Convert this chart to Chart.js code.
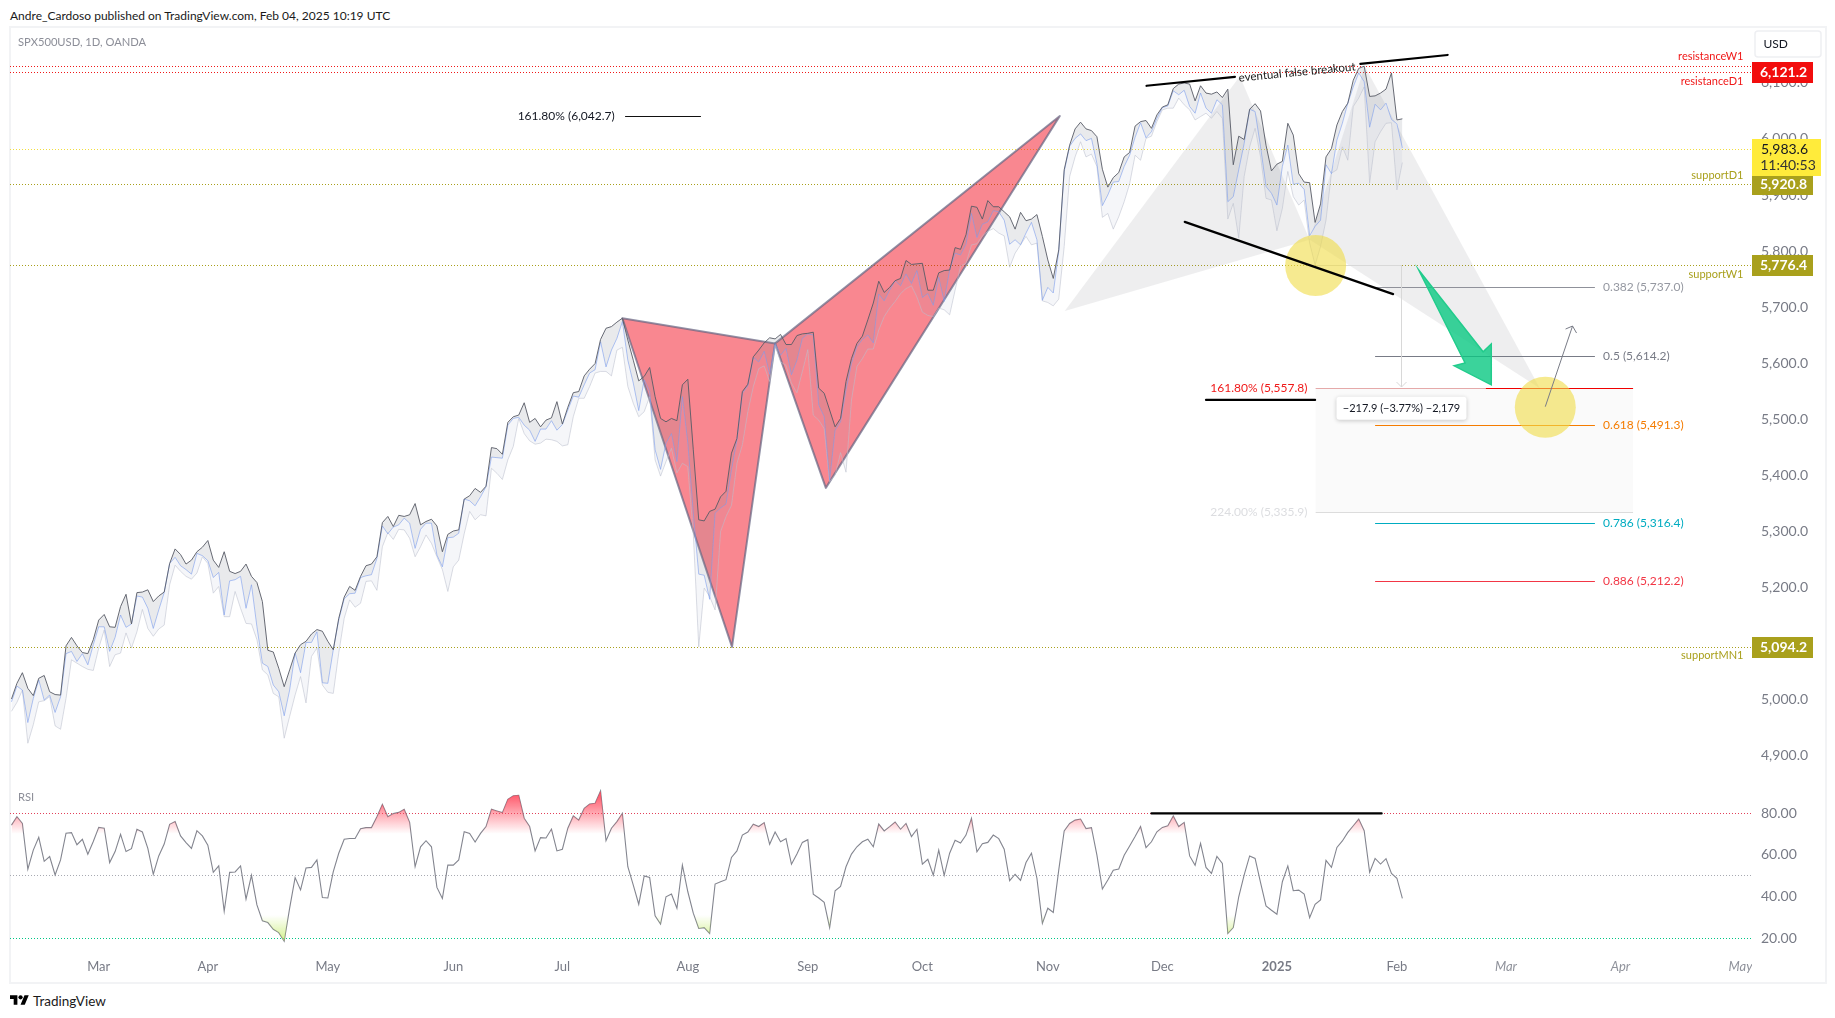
<!DOCTYPE html>
<html lang="en">
<head>
    <meta charset="UTF-8">
    <title>SPX500USD, 1D, OANDA</title>
    <script src="https://cdn.jsdelivr.net/npm/chart.js"></script>
    <style>
        body { margin: 0; background: white; font-family: Lato, sans-serif; }
        canvas { position: absolute; left: 0; top: 0; }
        .frame { position: absolute; left: 9px; top: 26px; width: 1814px; height: 954px; border: 2px solid #f2f3f5; }
        .header { position: absolute; left: 10px; top: 8px; font-size: 12px; color: #1a1a1a; white-space: nowrap; }
        .footer { position: absolute; left: 33px; top: 993px; font-size: 13.5px; color: #1a1a1a; }
        .logo { position: absolute; left: 10px; top: 993px; }
    </style>
</head>
<body>
    <div class="frame"></div>
    <div class="header">Andre_Cardoso published on TradingView.com, Feb 04, 2025 10:19 UTC</div>
    <svg class="logo" width="19" height="15" viewBox="0 0 36 28"><path d="M14 22H7V11H0V4h14v18zM28 22h-8l7.5-18h8L28 22z"/><circle cx="20" cy="8" r="4"/></svg>
    <div class="footer">TradingView</div>
    <canvas id="chart" width="1835" height="1018"></canvas>

    <script>
        // daily bars (one value per bar)
        const highLine = [
            5000,5028,5047,5019,5006,5037,5042,5013,5008,5007,5095,5110,5095,5083,5081,5106,5141,5151,5129,5128,
            5165,5187,5134,5190,5191,5195,5174,5184,5191,5242,5268,5258,5241,5248,5263,5271,5283,5248,5235,5263,
            5228,5224,5228,5241,5219,5208,5174,5087,5084,5055,5022,5052,5082,5097,5103,5116,5124,5121,5103,5088,
            5144,5182,5201,5194,5219,5238,5241,5254,5315,5326,5308,5328,5326,5329,5349,5311,5317,5321,5309,5263,
            5294,5300,5302,5357,5363,5376,5369,5380,5449,5447,5437,5494,5504,5507,5529,5494,5501,5486,5498,5502,
            5531,5491,5521,5547,5549,5577,5589,5599,5642,5662,5665,5673,5680,5641,5605,5568,5576,5592,5540,5501,
            5495,5501,5497,5561,5571,5445,5320,5318,5335,5339,5361,5371,5439,5465,5549,5562,5611,5623,5636,5645,
            5643,5651,5633,5633,5649,5652,5653,5655,5555,5546,5516,5486,5501,5567,5608,5635,5648,5677,5707,5746,
            5726,5735,5747,5751,5783,5776,5777,5778,5730,5730,5761,5765,5766,5806,5803,5829,5880,5878,5857,5890,
            5879,5879,5870,5861,5839,5869,5854,5857,5865,5826,5784,5751,5802,5945,5989,6018,6030,6018,6015,6004,
            5946,5914,5931,5940,5968,5976,6023,6031,6033,6019,6043,6057,6061,6090,6098,6100,6098,6068,6095,6082,
            6080,6084,6074,6089,5954,6005,5999,6053,6063,6050,5989,5943,5955,5960,6028,6007,5938,5923,5922,5851,
            5884,5968,5983,6025,6049,6064,6105,6126,6130,6076,6077,6082,6089,6118,6034,6036
        ];
        const midLine = [
            4995,5023,5016,4958,5001,5034,4998,5007,4976,5004,5081,5085,5067,5081,5061,5097,5129,5129,5085,5110,
            5150,5128,5134,5184,5182,5162,5126,5159,5190,5242,5253,5238,5231,5223,5260,5256,5247,5217,5226,5150,
            5211,5213,5219,5162,5204,5129,5064,5058,5025,5013,4970,5016,5082,5047,5101,5101,5120,5029,5028,5088,
            5141,5179,5188,5189,5217,5220,5222,5251,5309,5295,5307,5311,5323,5314,5269,5303,5314,5314,5257,5236,
            5288,5289,5296,5357,5354,5345,5361,5379,5432,5431,5430,5489,5501,5503,5489,5480,5460,5482,5482,5497,
            5480,5490,5516,5541,5539,5561,5582,5588,5638,5593,5623,5644,5674,5605,5564,5515,5570,5549,5445,5410,
            5457,5474,5424,5540,5457,5332,5223,5221,5178,5332,5341,5348,5409,5462,5546,5559,5610,5602,5621,5580,
            5635,5614,5626,5579,5605,5644,5652,5650,5525,5504,5391,5480,5495,5552,5599,5629,5642,5650,5636,5723,
            5711,5730,5747,5738,5759,5742,5765,5717,5724,5703,5753,5710,5766,5796,5793,5812,5867,5824,5848,5852,
            5872,5870,5855,5812,5820,5811,5832,5851,5820,5712,5735,5725,5799,5942,5987,6001,6009,5997,6001,5956,
            5881,5900,5923,5924,5951,5971,6003,6029,6002,6013,6037,6056,6059,6086,6079,6087,6058,6046,6082,6055,
            6046,6070,6061,5888,5897,5945,5992,6053,6049,5986,5915,5903,5882,5951,5989,5919,5921,5910,5827,5844,
            5855,5954,5938,5998,6028,6064,6093,6118,6102,6021,6062,6052,6064,6035,6027,5984
        ];
        const lowLine = [
            4978,4994,5016,4921,4954,4995,4997,5004,4952,4946,5001,5070,5064,5058,5053,5051,5091,5123,5058,5079,
            5082,5118,5091,5120,5160,5126,5112,5125,5132,5204,5239,5228,5219,5214,5225,5254,5242,5189,5201,5147,
            5147,5192,5162,5135,5134,5106,5052,5043,5010,5004,4930,4969,5007,5040,4993,5076,5091,5025,5012,5010,
            5082,5144,5177,5164,5171,5210,5211,5194,5272,5297,5285,5303,5302,5287,5254,5272,5293,5278,5254,5231,
            5192,5236,5248,5295,5335,5320,5329,5327,5412,5403,5392,5427,5451,5501,5474,5461,5455,5457,5464,5463,
            5460,5452,5454,5504,5537,5537,5558,5582,5585,5585,5577,5623,5628,5558,5528,5504,5513,5540,5427,5398,
            5424,5448,5404,5421,5415,5296,5093,5198,5183,5159,5299,5326,5346,5421,5454,5513,5558,5590,5595,5567,
            5632,5602,5596,5564,5547,5585,5624,5507,5498,5483,5388,5400,5440,5405,5534,5594,5608,5625,5625,5659,
            5683,5698,5710,5724,5733,5738,5718,5691,5685,5683,5698,5695,5686,5730,5773,5778,5811,5813,5827,5835,
            5840,5832,5827,5771,5796,5811,5826,5811,5814,5711,5708,5702,5714,5808,5933,5968,5995,5968,5973,5951,
            5860,5867,5839,5861,5888,5920,5971,5962,6001,6005,6031,6052,6055,6055,6073,6061,6052,6034,6040,6046,
            6037,6049,6037,5857,5885,5823,5933,5986,6019,5968,5894,5891,5836,5876,5942,5897,5882,5891,5814,5775,
            5808,5855,5939,5945,5986,5962,6058,6073,6093,5921,5995,6013,6028,6029,5909,5958
        ];
        const rsiLine = [
            74.2,78.2,75.0,53.0,62.2,68.3,56.8,59.1,50.3,57.5,70.3,70.6,64.8,67.4,60.2,66.3,73.1,72.7,56.2,61.5,
            69.8,61.5,62.9,72.2,70.9,63.0,50.6,59.4,65.1,74.6,75.9,69.0,65.8,63.0,71.5,69.0,64.6,51.5,54.6,32.8,
            51.5,51.7,54.6,38.7,50.1,35.9,28.3,27.4,24.2,22.6,18.4,34.3,49.0,43.1,53.6,53.9,57.5,39.4,39.2,51.9,
            60.7,67.4,67.8,67.8,72.5,73.0,73.0,78.2,84.2,78.2,79.7,80.3,81.8,75.5,54.2,63.8,66.7,63.8,44.3,39.0,
            55.0,55.0,57.5,71.0,70.2,66.1,70.2,73.5,81.8,81.0,80.2,86.6,88.3,88.5,77.5,73.5,61.8,68.2,68.0,72.3,
            61.8,62.6,72.7,78.6,76.6,82.2,84.3,84.7,90.6,66.7,72.7,75.9,79.9,54.2,45.4,36.2,49.8,49.1,30.6,26.7,
            39.8,41.1,34.3,55.0,42.2,31.9,24.6,25.0,22.2,45.9,47.0,48.0,58.7,61.8,69.4,70.9,74.6,73.5,75.4,65.0,
            70.9,66.2,67.7,55.4,60.3,65.9,67.2,41.0,39.2,37.1,25.0,42.7,44.8,54.2,60.3,63.8,66.2,67.4,63.8,74.7,
            71.4,73.5,75.7,72.2,75.0,68.7,72.2,55.4,57.8,50.1,62.2,50.1,60.7,66.9,65.6,69.4,77.4,61.4,65.3,65.9,
            69.4,67.7,62.6,47.5,50.6,47.7,56.2,60.7,48.7,27.0,34.3,32.3,52.6,71.4,75.0,76.6,77.1,72.5,73.0,59.8,
            43.5,47.8,52.5,53.1,59.7,64.2,68.7,73.5,63.4,66.2,71.0,73.1,73.9,78.6,73.5,75.5,59.4,54.9,65.4,53.9,
            51.0,59.2,55.8,22.2,25.0,39.8,50.3,59.4,58.2,46.6,35.4,33.3,31.4,47.0,54.6,42.7,43.0,41.1,29.8,36.2,
            38.3,57.3,53.9,63.5,66.6,70.7,73.9,77.1,71.5,51.5,58.2,55.5,58.1,51.0,48.7,39.0
        ];

        const monthBars = [16, 36, 58, 81, 101, 124, 146, 167, 190, 211, 232, 254, 274, 295, 317];
        const monthLabels = ['Mar', 'Apr', 'May', 'Jun', 'Jul', 'Aug', 'Sep', 'Oct', 'Nov', 'Dec', '2025', 'Feb', 'Mar', 'Apr', 'May'];
        const priceTicks = [4900, 5000, 5100, 5200, 5300, 5400, 5500, 5600, 5700, 5800, 5900, 6000, 6100];
        const rsiTicks = [20, 40, 60, 80];

        // drawn patterns, as [bar, price]
        const redLeg1 = [[112, 5680], [132.1, 5093], [140, 5635]];
        const redLeg2 = [[140, 5635], [149.3, 5377], [192.2, 6041]];
        const grayLeg1 = [[193.1, 5693], [225.2, 6112], [238, 5820]];
        const grayLeg2 = [[238, 5820], [248.1, 6130], [280.2, 5555]];
        const greenArrow = [[258, 5766], [269.8, 5620], [271.3, 5634], [271.3, 5561], [264.5, 5595], [266.5, 5600]];

        const trendLines = [
            [[208.1, 6095], [224.3, 6111]],
            [[247.3, 6134], [263.3, 6150]],
            [[215.1, 5852], [253.3, 5723]],
            [[219, 5534], [239, 5534]],
        ];
        const levelLines = [
            { price: 6131.6, color: '#f01818', label: 'resistanceW1', labelPrice: 6148 },
            { price: 6121.2, color: '#f01818', label: 'resistanceD1', labelPrice: 6103 },
            { price: 5983.6, color: '#f2de3c' },
            { price: 5920.8, color: '#a9a01c', label: 'supportD1', labelPrice: 5934 },
            { price: 5776.4, color: '#a9a01c', label: 'supportW1', labelPrice: 5758 },
            { price: 5094.2, color: '#a9a01c', label: 'supportMN1', labelPrice: 5077 },
        ];
        const fibLines = [
            { price: 5737.0, text: '0.382 (5,737.0)', line: '#8f919a', color: '#9598a1' },
            { price: 5614.2, text: '0.5 (5,614.2)', line: '#787b86', color: '#787b86' },
            { price: 5491.3, text: '0.618 (5,491.3)', line: '#f57c00', color: '#f57c00' },
            { price: 5316.4, text: '0.786 (5,316.4)', line: '#00acc1', color: '#00acc1' },
            { price: 5212.2, text: '0.886 (5,212.2)', line: '#f23645', color: '#f23645' },
        ];
        const priceBadges = [
            { price: 6121.2, text: '6,121.2', back: '#f20d0d', color: 'white' },
            { price: 5920.8, text: '5,920.8', back: '#a9a01c', color: 'white' },
            { price: 5776.4, text: '5,776.4', back: '#a9a01c', color: 'white' },
            { price: 5094.2, text: '5,094.2', back: '#a9a01c', color: 'white' },
        ];
        const circles = [[239.1, 5774], [281.2, 5521]];

        const axisFont = 'Lato, sans-serif';
        const points = arr => arr.map((v, i) => ({ x: i, y: v }));

        function polygon(ctx, chart, pts) {
            const { x, y } = chart.scales;
            ctx.beginPath();
            pts.forEach((p, i) => {
                const px = x.getPixelForValue(p[0]);
                const py = y.getPixelForValue(p[1]);
                if (i === 0) ctx.moveTo(px, py); else ctx.lineTo(px, py);
            });
        }

        function text(ctx, str, px, py, color, font, align) {
            ctx.fillStyle = color;
            ctx.font = font;
            ctx.textAlign = align || 'left';
            ctx.textBaseline = 'middle';
            ctx.fillText(str, px, py);
        }

        function dotted(ctx, x1, x2, py, color) {
            ctx.save();
            ctx.strokeStyle = color;
            ctx.lineWidth = 1;
            ctx.setLineDash([1, 2]);
            ctx.beginPath();
            ctx.moveTo(x1, py);
            ctx.lineTo(x2, py);
            ctx.stroke();
            ctx.restore();
        }

        function segment(ctx, x1, y1, x2, y2, color, width) {
            ctx.strokeStyle = color;
            ctx.lineWidth = width;
            ctx.beginPath();
            ctx.moveTo(x1, y1);
            ctx.lineTo(x2, y2);
            ctx.stroke();
        }

        // price levels sit one pixel lower than the raw scale position
        const levelY = (scale, price) => Math.round(scale.getPixelForValue(price)) + 1;

        // thin horizontal line kept on one pixel row
        function flat(ctx, x1, x2, row, color) {
            segment(ctx, x1, row + 0.5, x2, row + 0.5, color, 1);
        }

        const drawings = {
            id: 'drawings',
            // rsi fill colours need the finished scale
            afterLayout(chart) {
                const r = chart.scales.yRsi;
                const ctx = chart.ctx;
                const hot = ctx.createLinearGradient(0, r.getPixelForValue(90), 0, r.getPixelForValue(70));
                hot.addColorStop(0, 'rgba(255,70,90,0.95)');
                hot.addColorStop(1, 'rgba(255,70,90,0)');
                const cold = ctx.createLinearGradient(0, r.getPixelForValue(20), 0, r.getPixelForValue(31));
                cold.addColorStop(0, 'rgba(190,235,90,0.6)');
                cold.addColorStop(1, 'rgba(190,235,90,0)');
                chart.data.datasets[3].fill.above = hot;
                chart.data.datasets[4].fill.below = cold;
            },
            beforeDatasetsDraw(chart) {
                const ctx = chart.ctx;
                const { x, y, yRsi } = chart.scales;
                const area = chart.chartArea;
                ctx.save();

                levelLines.forEach(l => dotted(ctx, area.left, area.right, levelY(y, l.price) + 0.5, l.color));
                dotted(ctx, area.left, area.right, Math.round(yRsi.getPixelForValue(80)) + 0.5, '#e2405a');
                dotted(ctx, area.left, area.right, Math.round(yRsi.getPixelForValue(50)) - 0.5, '#a8aab2');
                dotted(ctx, area.left, area.right, Math.round(yRsi.getPixelForValue(20)) + 0.5, '#00c785');

                // gray harmonic pattern
                ctx.fillStyle = 'rgba(120,123,134,0.13)';
                [grayLeg1, grayLeg2].forEach(leg => { polygon(ctx, chart, leg); ctx.fill(); });

                // fib extension box
                const boxLeft = x.getPixelForValue(239.1);
                const boxRight = x.getPixelForValue(297.3);
                const boxTop = levelY(y, 5557.8);
                const boxBottom = levelY(y, 5335.9);
                ctx.fillStyle = 'rgba(120,123,134,0.04)';
                ctx.fillRect(boxLeft, boxTop, boxRight - boxLeft, boxBottom - boxTop);
                flat(ctx, boxLeft, boxRight, boxBottom, '#dcdcdc');

                // red pattern
                ctx.fillStyle = 'rgba(242,0,20,0.47)';
                ctx.strokeStyle = 'rgba(100,100,130,0.7)';
                ctx.lineWidth = 2;
                ctx.lineJoin = 'round';
                [redLeg1, redLeg2].forEach(leg => {
                    polygon(ctx, chart, leg);
                    ctx.closePath();
                    ctx.fill();
                    ctx.stroke();
                });
                ctx.restore();
            },
            afterDatasetsDraw(chart) {
                const ctx = chart.ctx;
                const { x, y, yRsi } = chart.scales;
                ctx.save();

                // retracement lines and labels
                const fibLeft = x.getPixelForValue(250);
                const fibRight = x.getPixelForValue(290.3);
                const fibText = x.getPixelForValue(291.8);
                fibLines.forEach(f => {
                    const row = levelY(y, f.price);
                    flat(ctx, fibLeft, fibRight, row, f.line);
                    text(ctx, f.text, fibText, row, f.color, '12px ' + axisFont);
                });

                // 161.8 / 224 extension lines
                const extLeft = x.getPixelForValue(239.1);
                const extMid = x.getPixelForValue(270.3);
                const extRight = x.getPixelForValue(297.3);
                const ext = levelY(y, 5557.8);
                flat(ctx, extLeft, extMid, ext, '#e5a9a9');
                flat(ctx, extMid, extRight, ext, '#f00000');
                const extText = x.getPixelForValue(237.6);
                text(ctx, '161.80% (5,557.8)', extText, ext, '#f01818', '12px ' + axisFont, 'right');
                text(ctx, '224.00% (5,335.9)', extText, levelY(y, 5335.9), '#dcdde0', '12px ' + axisFont, 'right');

                // top extension
                const topY = levelY(y, 6042.7);
                flat(ctx, x.getPixelForValue(112.5), x.getPixelForValue(126.4), topY, '#111');
                text(ctx, '161.80% (6,042.7)', x.getPixelForValue(110.6), topY, '#131722', '12px ' + axisFont, 'right');

                // measured drop
                const rangeX = Math.round(x.getPixelForValue(254.8)) + 0.5;
                const rangeTop = levelY(y, 5776.4);
                const rangeEnd = levelY(y, 5558.5);
                flat(ctx, x.getPixelForValue(239.1), rangeX, rangeTop, '#d8d8d8');
                segment(ctx, rangeX, rangeTop, rangeX, rangeEnd, '#d8d8d8', 1);
                segment(ctx, rangeX - 5, rangeEnd - 5, rangeX, rangeEnd, '#d8d8d8', 1);
                segment(ctx, rangeX + 5, rangeEnd - 5, rangeX, rangeEnd, '#d8d8d8', 1);

                // yellow circles
                ctx.fillStyle = 'rgba(240,220,70,0.6)';
                circles.forEach(c => {
                    ctx.beginPath();
                    ctx.arc(x.getPixelForValue(c[0]), y.getPixelForValue(c[1]), 30.5, 0, Math.PI * 2);
                    ctx.fill();
                });

                // green arrow
                ctx.fillStyle = 'rgba(10,200,130,0.8)';
                ctx.strokeStyle = '#22cc8c';
                ctx.lineWidth = 1.5;
                polygon(ctx, chart, greenArrow);
                ctx.closePath();
                ctx.fill();
                ctx.stroke();

                // thin arrow
                const ax1 = x.getPixelForValue(281.2), ay1 = y.getPixelForValue(5522);
                const ax2 = x.getPixelForValue(286.2), ay2 = y.getPixelForValue(5666);
                segment(ctx, ax1, ay1, ax2, ay2, '#787b86', 1);
                segment(ctx, ax2 - 7, ay2 + 3, ax2, ay2, '#787b86', 1);
                segment(ctx, ax2 + 4, ay2 + 7, ax2, ay2, '#787b86', 1);

                // black trend lines
                ctx.lineCap = 'round';
                trendLines.forEach(l => {
                    segment(ctx, x.getPixelForValue(l[0][0]), y.getPixelForValue(l[0][1]),
                        x.getPixelForValue(l[1][0]), y.getPixelForValue(l[1][1]), '#000', 2.2);
                });
                const rsiY = yRsi.getPixelForValue(79.8);
                segment(ctx, x.getPixelForValue(209), rsiY, x.getPixelForValue(251.2), rsiY, '#000', 2.2);
                ctx.lineCap = 'butt';

                // range label
                const boxX = rangeX - 65, boxY = y.getPixelForValue(5519) - 11.5;
                ctx.save();
                ctx.shadowColor = 'rgba(0,0,0,0.22)';
                ctx.shadowBlur = 4;
                ctx.shadowOffsetY = 1;
                ctx.fillStyle = 'white';
                ctx.beginPath();
                ctx.roundRect(boxX, boxY, 130, 23, 3);
                ctx.fill();
                ctx.restore();
                text(ctx, '\u2212217.9 (\u22123.77%) \u22122,179', rangeX, boxY + 11.5, '#131722', '11px ' + axisFont, 'center');

                // rotated note
                ctx.save();
                ctx.translate(x.getPixelForValue(235.7), y.getPixelForValue(6119));
                ctx.rotate(-5.5 * Math.PI / 180);
                text(ctx, 'eventual false breakout', 0, 0, '#222', '11.5px ' + axisFont, 'center');
                ctx.restore();
                ctx.restore();
            },
            afterDraw(chart) {
                const ctx = chart.ctx;
                const { y, yRsi } = chart.scales;
                const right = chart.chartArea.right;
                ctx.save();

                // the last month label is cut at the pane edge
                ctx.fillStyle = 'white';
                ctx.fillRect(right, 955, 9, 24);

                text(ctx, 'SPX500USD, 1D, OANDA', 18, 42, '#8c8e98', '11.2px ' + axisFont);
                text(ctx, 'RSI', 18, yRsi.getPixelForValue(87.4), '#8c8e98', '11.2px ' + axisFont);

                levelLines.filter(l => l.label).forEach(l => {
                    text(ctx, l.label, right - 8.5, y.getPixelForValue(l.labelPrice), l.color, '11px ' + axisFont, 'right');
                });

                // USD box
                ctx.fillStyle = 'white';
                ctx.strokeStyle = '#eeeff2';
                ctx.lineWidth = 1.5;
                ctx.beginPath();
                ctx.roundRect(right + 3, 31, 66, 26, 3);
                ctx.fill();
                ctx.stroke();
                text(ctx, 'USD', right + 11.5, 44, '#131722', '12px ' + axisFont);

                // price badges
                priceBadges.forEach(b => {
                    const row = levelY(y, b.price);
                    ctx.fillStyle = b.back;
                    ctx.fillRect(right, row - 10, 61, 21);
                    text(ctx, b.text, right + 31.5, row + 0.5, b.color, 'bold 14px ' + axisFont, 'center');
                });

                // last price with countdown
                const lastY = levelY(y, 5983.6);
                ctx.fillStyle = '#ffeb3b';
                ctx.fillRect(right, lastY - 10, 69, 37);
                text(ctx, '5,983.6', right + 32.5, lastY, '#131722', '14px ' + axisFont, 'center');
                text(ctx, '11:40:53', right + 36, lastY + 16, '#333', '14px ' + axisFont, 'center');
                ctx.restore();
            }
        };

        const formatPrice = v => v.toLocaleString('en-US', { minimumFractionDigits: 1, maximumFractionDigits: 1 });
        const fixWidth = scale => { scale.width = 73; };

        new Chart(document.getElementById('chart'), {
            type: 'line',
            data: {
                datasets: [
                    { data: points(highLine), yAxisID: 'y', borderColor: 'rgba(88,91,102,0.9)', borderWidth: 1, fill: '+1', backgroundColor: 'rgba(120,123,134,0.16)' },
                    { data: points(midLine), yAxisID: 'y', borderColor: 'rgba(125,160,245,0.6)', borderWidth: 1, fill: '+1', backgroundColor: 'rgba(120,123,165,0.07)' },
                    { data: points(lowLine), yAxisID: 'y', borderColor: 'rgba(190,193,205,0.55)', borderWidth: 1, fill: false },
                    { data: points(rsiLine), yAxisID: 'yRsi', borderWidth: 0, borderColor: 'transparent', fill: { target: { value: 70 }, above: 'transparent', below: 'transparent' } },
                    { data: points(rsiLine), yAxisID: 'yRsi', borderWidth: 0, borderColor: 'transparent', fill: { target: { value: 31 }, above: 'transparent', below: 'transparent' } },
                    { data: points(rsiLine), yAxisID: 'yRsi', borderColor: '#83858f', borderWidth: 1.1, fill: false },
                ]
            },
            options: {
                responsive: false,
                animation: false,
                elements: { point: { radius: 0 }, line: { tension: 0 } },
                layout: { padding: { left: 10, top: 30, right: 10, bottom: 36 } },
                plugins: { legend: { display: false }, tooltip: { enabled: false } },
                scales: {
                    x: {
                        type: 'linear',
                        min: -0.27,
                        max: 319.1,
                        grid: { display: false, drawTicks: false },
                        border: { display: false },
                        afterFit: scale => { scale.height = 32; },
                        afterBuildTicks: scale => { scale.ticks = monthBars.map(v => ({ value: v })); },
                        ticks: {
                            autoSkip: false,
                            maxRotation: 0,
                            padding: 9,
                            color: ctx => ctx.index >= 12 ? '#8f929b' : '#787b86',
                            font: ctx => ({
                                family: axisFont,
                                size: 13,
                                weight: monthLabels[ctx.index] === '2025' ? 'bold' : 'normal',
                                style: ctx.index >= 12 ? 'italic' : 'normal'
                            }),
                            callback: (v, i) => monthLabels[i]
                        }
                    },
                    y: {
                        position: 'right',
                        stack: 'panes',
                        stackWeight: 750,
                        min: 4855.4,
                        max: 6194.6,
                        grid: { display: false, drawTicks: false },
                        border: { display: false },
                        afterFit: fixWidth,
                        afterBuildTicks: scale => { scale.ticks = priceTicks.map(v => ({ value: v })); },
                        ticks: {
                            autoSkip: false,
                            padding: 9,
                            color: '#787b86',
                            font: { family: axisFont, size: 14 },
                            callback: formatPrice
                        }
                    },
                    yRsi: {
                        position: 'right',
                        stack: 'panes',
                        stackWeight: 170,
                        min: 14.24,
                        max: 95.85,
                        grid: { display: false, drawTicks: false },
                        border: { display: false },
                        afterFit: fixWidth,
                        afterBuildTicks: scale => { scale.ticks = rsiTicks.map(v => ({ value: v })); },
                        ticks: {
                            autoSkip: false,
                            padding: 9,
                            color: '#787b86',
                            font: { family: axisFont, size: 14 },
                            callback: v => v.toFixed(2)
                        }
                    }
                }
            },
            plugins: [drawings]
        });
    </script>
</body>
</html>
